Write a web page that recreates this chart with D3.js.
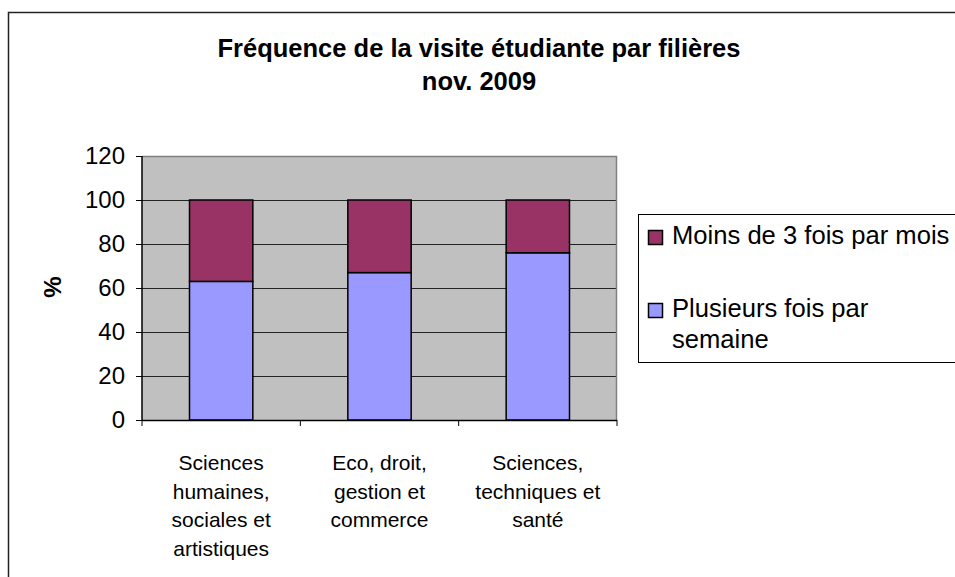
<!DOCTYPE html>
<html><head><meta charset="utf-8">
<script src="https://cdn.jsdelivr.net/npm/d3@7"></script>
<style>body{margin:0;background:#fff;} svg{display:block;font-family:"Liberation Sans",Arial,sans-serif;}</style>
</head><body>
<svg id="c" width="955" height="577"></svg>
<script>
const categories = [
  ["Sciences","humaines,","sociales et","artistiques"],
  ["Eco, droit,","gestion et","commerce"],
  ["Sciences,","techniques et","santé"]
];
const seriesNames = ["Plusieurs fois par semaine","Moins de 3 fois par mois"];
const plusieurs = [63, 67, 76];
const moins = [37, 33, 24];
const yTicks = [0,20,40,60,80,100,120];
const colors = ["#9999ff","#993366"];
const titleLines = ["Fréquence de la visite étudiante par filières","nov. 2009"];

const svg = d3.select("#c");
// outer border
svg.append("rect").attr("x",8.5).attr("y",12.5).attr("width",1000).attr("height",1000)
  .attr("fill","none").attr("stroke","#222").attr("stroke-width",1.5);

const L=142, R=617, T=156, B=420;
const x = d3.scaleBand().domain(d3.range(categories.length)).range([L,R]).paddingInner(0.6).paddingOuter(0.3);
const y = d3.scaleLinear().domain([0,120]).range([B,T]);

svg.append("rect").attr("x",L).attr("y",T).attr("width",R-L).attr("height",B-T).attr("fill","#c0c0c0");
// gridlines
svg.append("g").selectAll("line").data(yTicks.filter(d=>d>0)).join("line")
  .attr("x1",L).attr("x2",R).attr("y1",d=>y(d)+0.5).attr("y2",d=>y(d)+0.5)
  .attr("stroke","#222").attr("stroke-width",1);
// plot border top/right
svg.append("path").attr("d",`M${L},${T+0.5}H${R-0.5}V${B}`).attr("fill","none").attr("stroke","#808080").attr("stroke-width",1.5);

const data = categories.map((c,i)=>({i, v:[plusieurs[i], moins[i]]}));
const stack = d3.stack().keys([0,1]).value((d,k)=>d.v[k])(data);
svg.append("g").selectAll("g").data(stack).join("g").attr("fill",(d,k)=>colors[k])
  .selectAll("rect").data(d=>d).join("rect")
  .attr("x",(d,i)=>x(i)).attr("width",x.bandwidth())
  .attr("y",d=>y(d[1])).attr("height",d=>y(d[0])-y(d[1]))
  .attr("stroke","#000").attr("stroke-width",1.5);

// y axis
const ya = svg.append("g").attr("transform",`translate(${L},0)`)
  .call(d3.axisLeft(y).tickValues(yTicks).tickSize(6).tickPadding(11));
ya.select(".domain").attr("stroke","#000").attr("stroke-width",1.5).attr("d",`M0,${T}V${B}`);
ya.selectAll(".tick line").attr("stroke","#000");
ya.selectAll("text").attr("font-size",24).attr("fill","#000").attr("font-family","Liberation Sans, Arial, sans-serif");

// x axis
const xa = svg.append("g").attr("transform",`translate(0,${B})`);
xa.append("line").attr("x1",L).attr("x2",R).attr("y1",0.5).attr("y2",0.5).attr("stroke","#000").attr("stroke-width",1.5);
const xt = d3.range(categories.length+1).map(i=>L+(R-L)*i/categories.length);
xa.selectAll(".t").data(xt).join("line").attr("x1",d=>d).attr("x2",d=>d).attr("y1",0).attr("y2",6).attr("stroke","#000");
xa.selectAll("text").data(categories).join("text")
  .attr("x",(d,i)=>x(i)+x.bandwidth()/2).attr("y",50).attr("text-anchor","middle")
  .attr("font-size",21).attr("fill","#000")
  .selectAll("tspan").data(d=>d).join("tspan")
  .attr("x",function(){return this.parentNode.getAttribute("x");})
  .attr("dy",(d,j)=>j===0?0:28.5).text(d=>d);

// y label
svg.append("text").attr("transform","translate(61,287) rotate(-90)").attr("text-anchor","middle")
  .attr("font-size",24).attr("font-weight","bold").text("%");

// title
svg.append("text").attr("x",479).attr("y",57).attr("text-anchor","middle").attr("font-size",25.5).attr("font-weight","bold")
  .selectAll("tspan").data(titleLines).join("tspan").attr("x",479).attr("dy",(d,i)=>i?33:0).text(d=>d);

// legend
const lg = svg.append("g");
lg.append("rect").attr("x",638.5).attr("y",214.5).attr("width",400).attr("height",148).attr("fill","#fff").attr("stroke","#000").attr("stroke-width",1);
const legItems = [
  {c:colors[1], lines:["Moins de 3 fois par mois"], y:244},
  {c:colors[0], lines:["Plusieurs fois par","semaine"], y:317}
];
legItems.forEach(it=>{
  lg.append("rect").attr("x",648.5).attr("y",it.y-13.5).attr("width",14).attr("height",14).attr("fill",it.c).attr("stroke","#000").attr("stroke-width",1.5);
  lg.append("text").attr("x",672).attr("y",it.y).attr("font-size",25.6).attr("fill","#000")
    .selectAll("tspan").data(it.lines).join("tspan").attr("x",672).attr("dy",(d,i)=>i?31:0).text(d=>d);
});
</script>
</body></html>
